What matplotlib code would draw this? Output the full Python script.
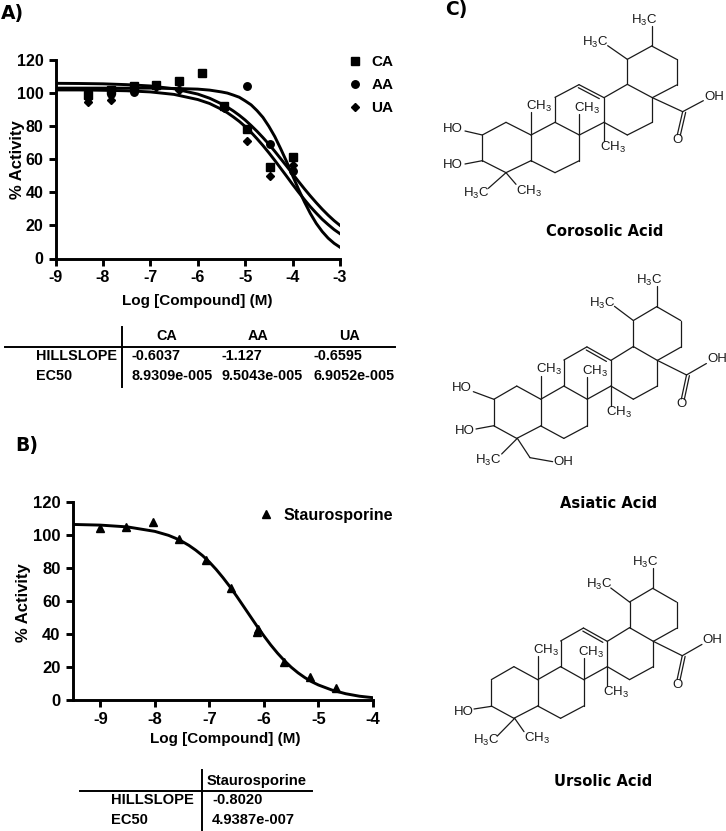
import matplotlib
matplotlib.use("Agg")
import matplotlib.pyplot as plt

plt.rcParams['font.family'] = ['Liberation Sans', 'DejaVu Sans']
plt.rcParams['mathtext.default'] = 'regular'

W, H = 726, 831

# panel A data
ca_x = [-8.31, -7.83, -7.35, -6.87, -6.39, -5.92, -5.44, -4.96, -4.48, -4.0]
ca_y = [98.8, 101.8, 104.2, 105.0, 107.3, 111.9, 92.3, 78.0, 55.4, 61.3]
aa_x = [-8.31, -7.83, -7.35, -6.87, -6.39, -5.44, -4.96, -4.48, -4.0]
aa_y = [97.8, 99.2, 100.6, 105.0, 106.4, 91.3, 104.2, 69.4, 53.0]
ua_x = [-8.31, -7.83, -7.35, -6.87, -6.39, -5.44, -4.96, -4.48, -4.0]
ua_y = [94.8, 95.8, 101.4, 103.4, 101.8, 90.7, 71.0, 49.6, 56.5]

curve_a_x = [-9, -8.5, -8, -7.5, -7, -6.5, -6, -5.75, -5.5, -5.375, -5.25, -5.125, -5,
             -4.875, -4.75, -4.625, -4.5, -4.375, -4.25, -4.125, -4, -3.875, -3.75,
             -3.625, -3.5, -3.375, -3.25, -3.125, -3]
ca_curve = [105.9, 105.8, 105.6, 105.1, 104.3, 102.6, 99.4, 96.9, 93.5, 91.5, 89.2, 86.6, 83.7,
            80.4, 76.9, 73.1, 69.1, 64.8, 60.3, 55.8, 51.2, 46.6, 42.1,
            37.8, 33.7, 29.8, 26.2, 22.9, 20.0]
aa_curve = [103.0, 103.0, 103.0, 103.0, 103.0, 102.8, 102.4, 101.8, 100.7, 100.0, 98.8, 97.5, 95.3,
            92.9, 89.4, 85.3, 79.9, 73.7, 66.3, 58.5, 50.1, 41.9, 34.2,
            27.2, 21.2, 16.3, 12.3, 9.2, 6.8]
ua_curve = [101.9, 101.9, 101.7, 101.4, 100.7, 99.2, 96.1, 93.7, 90.2, 88.1, 85.6, 82.9, 79.8,
            76.3, 72.4, 68.3, 63.9, 59.3, 54.5, 49.7, 44.8, 40.1, 35.6,
            31.3, 27.4, 23.7, 20.5, 17.5, 15.0]

# panel B data
st_x = [-9, -8.52, -8.04, -7.56, -7.07, -6.6, -6.12, -6.1, -5.64, -5.16, -4.68]
st_y = [103.8, 104.9, 107.9, 97.6, 84.8, 67.4, 40.9, 42.5, 23.0, 13.6, 7.0]
st_curve_x = [-9.5, -9, -8.5, -8, -7.75, -7.625, -7.5, -7.375, -7.25, -7.125, -7, -6.875,
              -6.75, -6.625, -6.5, -6.375, -6.25, -6.125, -6, -5.875, -5.75, -5.625,
              -5.5, -5.375, -5.25, -5.125, -5, -4.75, -4.5, -4.25, -4]
st_curve = [106.2, 105.8, 104.7, 102.0, 99.6, 97.9, 95.9, 93.5, 90.6, 87.3, 83.4, 78.9,
            73.9, 68.5, 62.7, 56.6, 50.5, 44.4, 38.6, 33.1, 28.1, 23.6,
            19.6, 16.2, 13.3, 10.8, 8.8, 5.7, 3.5, 2.0, 1.1]

# tables
table_a_cols = ['CA', 'AA', 'UA']
table_a_rows = ['HILLSLOPE', 'EC50']
table_a_vals = [['-0.6037', '-1.127', '-0.6595'],
                ['8.9309e-005', '9.5043e-005', '6.9052e-005']]
table_b_col = 'Staurosporine'
table_b_vals = ['-0.8020', '4.9387e-007']

# shared triterpene skeleton, in 3x crop pixels of the top structure
P = dict(a=(622, 178), b=(695, 138), c=(770, 178), d=(770, 255), e=(697, 293),
         f=(622, 253), g=(697, 367), h=(622, 405), i=(552, 367), j=(552, 293),
         k=(478, 405), l=(405, 367), m=(405, 292), n=(477, 254), o=(478, 482),
         p=(405, 518), q=(333, 482), r=(333, 405), s=(258, 518), t=(187, 482),
         u=(187, 405), v=(258, 367))
ring_bonds = ['ab', 'bc', 'cd', 'de', 'ef', 'fa', 'eg', 'gh', 'hi', 'ij', 'jf',
              'ik', 'kl', 'lm', 'mn', 'nj', 'ko', 'op', 'pq', 'qr', 'rl',
              'qs', 'st', 'tu', 'uv', 'vr']
side_bonds = [((695, 138), (695, 78)), ((622, 178), (563, 137)),
              ((333, 405), (333, 337)), ((478, 405), (478, 342)),
              ((552, 367), (552, 424)), ((697, 293), (788, 335)),
              ((788, 335), (850, 302)), ((788, 335), (772, 404)),
              ((797, 337), (781, 406)), ((475, 263), (538, 296))]
side_labels = [(672, 62, r'$H_3C$'), (525, 128, r'$H_3C$'), (358, 320, r'$CH_3$'),
               (502, 325, r'$CH_3$'), (578, 442, r'$CH_3$'), (884, 290, 'OH'),
               (772, 420, 'O')]

# name, crop offset, skeleton offset and scale, then ring A substituents in crop pixels
molecules = [
    dict(name='Corosolic Acid', crop=(420, 0), origin=(187, 138), scale=(1.0, 1.0), base=(187, 138),
         cap=(605, 231),
         bonds=[((187, 405), (135, 393)), ((187, 482), (135, 492)),
                ((258, 518), (205, 565)), ((258, 518), (288, 553))],
         labels=[(97, 387, 'HO'), (97, 495, 'HO'), (168, 580, r'$H_3C$'), (328, 575, r'$CH_3$')]),
    dict(name='Asiatic Acid', crop=(420, 265), origin=(222, 125), scale=(0.961, 1.04), base=(187, 138),
         cap=(609, 504),
         bonds=[((222, 403), (160, 380)), ((222, 482), (168, 492)),
                ((292, 520), (245, 567)), ((292, 520), (330, 578)), ((330, 578), (398, 590))],
         labels=[(125, 370, 'HO'), (135, 497, 'HO'), (205, 585, r'$H_3C$'), (430, 590, 'OH')]),
    dict(name='Ursolic Acid', crop=(420, 545), origin=(214, 130), scale=(0.953, 1.026), base=(187, 138),
         cap=(603, 781),
         bonds=[((214, 484), (162, 492)), ((284, 520), (232, 573)), ((284, 520), (312, 560))],
         labels=[(130, 500, 'HO'), (198, 587, r'$H_3C$'), (350, 580, r'$CH_3$')]),
]


def add_axes_px(left, top, right, bottom):
    return fig.add_axes([left / W, 1 - bottom / H, (right - left) / W, (bottom - top) / H])


def style_axes(ax, size, pad):
    ax.spines['top'].set_visible(False)
    ax.spines['right'].set_visible(False)
    ax.spines['left'].set_linewidth(2.1)
    ax.spines['bottom'].set_linewidth(2.1)
    ax.tick_params(width=2.1, length=5, pad=pad)
    ax.set_ylim(0, 120)
    ax.set_yticks(range(0, 121, 20))
    for lab in ax.get_xticklabels() + ax.get_yticklabels():
        lab.set_fontsize(size)
        lab.set_fontweight('bold')


def draw_molecule(ax, mol):
    cx, cy = mol['crop']
    ox, oy = mol['origin']
    sx, sy = mol['scale']
    bx, by = mol['base']

    def moved(pt):
        return (cx + (ox + sx * (pt[0] - bx)) / 3, cy + (oy + sy * (pt[1] - by)) / 3)

    def crop(pt):
        return (cx + pt[0] / 3, cy + pt[1] / 3)

    for b in ring_bonds:
        p0, p1 = moved(P[b[0]]), moved(P[b[1]])
        ax.plot([p0[0], p1[0]], [p0[1], p1[1]], color='#1a1a1a', lw=0.9, solid_capstyle='round')
    for p0, p1 in side_bonds:
        p0, p1 = moved(p0), moved(p1)
        ax.plot([p0[0], p1[0]], [p0[1], p1[1]], color='#1a1a1a', lw=0.9, solid_capstyle='round')
    for x, y, s in side_labels:
        x, y = moved((x, y))
        ax.text(x, y, s, fontsize=9.5, ha='center', va='center', color='#1a1a1a')
    for p0, p1 in mol['bonds']:
        p0, p1 = crop(p0), crop(p1)
        ax.plot([p0[0], p1[0]], [p0[1], p1[1]], color='#1a1a1a', lw=0.9, solid_capstyle='round')
    for x, y, s in mol['labels']:
        x, y = crop((x, y))
        ax.text(x, y, s, fontsize=9.5, ha='center', va='center', color='#1a1a1a')
    ax.text(mol['cap'][0], mol['cap'][1], mol['name'], fontsize=10.6, fontweight='bold',
            family='DejaVu Sans', ha='center', va='center', color='black')


fig = plt.figure(figsize=(W / 100, H / 100), dpi=100)

# overlay in picture pixels for tables, panel letters and structures
page = fig.add_axes([0, 0, 1, 1])
page.set_xlim(0, W)
page.set_ylim(H, 0)
page.axis('off')

for x, y, s in [(1, 14, 'A)'), (15, 445, 'B)'), (445, 10, 'C)')]:
    page.text(x, y, s, fontsize=13.5, fontweight='bold', family='DejaVu Sans', va='center')

# table A
page.plot([5, 395], [347.3, 347.3], color='black', lw=1.4)
page.plot([121.5, 121.5], [327, 387], color='black', lw=1.4)
for x, s in zip([167, 258, 350], table_a_cols):
    page.text(x, 336.5, s, fontsize=10.4, fontweight='bold', ha='center', va='center')
for y, name, vals in zip([356.5, 376.5], table_a_rows, table_a_vals):
    page.text(36, y, name, fontsize=10.4, fontweight='bold', va='center')
    for x, s in zip([131, 222, 313], vals):
        page.text(x, y, s, fontsize=10.4, fontweight='bold', va='center')

# table B
page.plot([80, 312], [790.7, 790.7], color='black', lw=1.4)
page.plot([201.7, 201.7], [770, 830], color='black', lw=1.4)
page.text(206.5, 780.5, table_b_col, fontsize=10.6, fontweight='bold', va='center')
for y, name, s in zip([800, 820], table_a_rows, table_b_vals):
    page.text(111.5, y, name, fontsize=10.6, fontweight='bold', va='center')
    page.text(212, y, s, fontsize=10.6, fontweight='bold', va='center')

for mol in molecules:
    draw_molecule(page, mol)

# panel A
ax_a = add_axes_px(55.5, 60, 340, 258.5)
ax_a.patch.set_alpha(0)
ax_a.plot(curve_a_x, ca_curve, color='black', lw=2.1)
ax_a.plot(curve_a_x, aa_curve, color='black', lw=2.1)
ax_a.plot(curve_a_x, ua_curve, color='black', lw=2.1)
h1, = ax_a.plot(ca_x, ca_y, 's', color='black', ms=5.2, label='CA', clip_on=False)
h2, = ax_a.plot(aa_x, aa_y, 'o', color='black', ms=5.4, label='AA', clip_on=False)
h3, = ax_a.plot(ua_x, ua_y, 'D', color='black', ms=3.8, label='UA', clip_on=False)
ax_a.set_xlim(-9, -3)
ax_a.set_xticks(range(-9, -2))
ax_a.set_xticklabels([str(v) for v in range(-9, -2)])
style_axes(ax_a, 11.5, 3.5)
ax_a.set_xlabel('Log [Compound] (M)', fontsize=11, fontweight='bold')
ax_a.xaxis.set_label_coords(0.5, -0.18)
ax_a.set_ylabel('% Activity', fontsize=12, fontweight='bold')
ax_a.yaxis.set_label_coords(-0.107, 0.5)
ax_a.legend(handles=[h1, h2, h3], loc='upper left', frameon=False, numpoints=1,
            bbox_to_anchor=(347 / W, 1 - 55 / H), bbox_transform=fig.transFigure,
            borderaxespad=0, borderpad=0, labelspacing=0.6, handlelength=1.0,
            handletextpad=0.6, prop={'weight': 'bold', 'size': 11})

# panel B
ax_b = add_axes_px(73, 501.7, 373, 699.5)
ax_b.patch.set_alpha(0)
ax_b.plot(st_curve_x, st_curve, color='black', lw=2.1)
h4, = ax_b.plot(st_x, st_y, '^', color='black', ms=5.5, label='Staurosporine', clip_on=False)
ax_b.set_xlim(-9.5, -4)
ax_b.set_xticks(range(-9, -3))
ax_b.set_xticklabels([str(v) for v in range(-9, -3)])
style_axes(ax_b, 12, 4)
ax_b.set_xlabel('Log [Compound] (M)', fontsize=11, fontweight='bold')
ax_b.xaxis.set_label_coords(0.507, -0.165)
ax_b.set_ylabel('% Activity', fontsize=12, fontweight='bold')
ax_b.yaxis.set_label_coords(-0.14, 0.49)
ax_b.legend(handles=[h4], loc='upper left', frameon=False, numpoints=1,
            bbox_to_anchor=(258 / W, 1 - 508 / H), bbox_transform=fig.transFigure,
            borderaxespad=0, borderpad=0, handlelength=1.0, handletextpad=0.6,
            prop={'weight': 'bold', 'size': 11.6})

fig.savefig('out.png', dpi=100)
